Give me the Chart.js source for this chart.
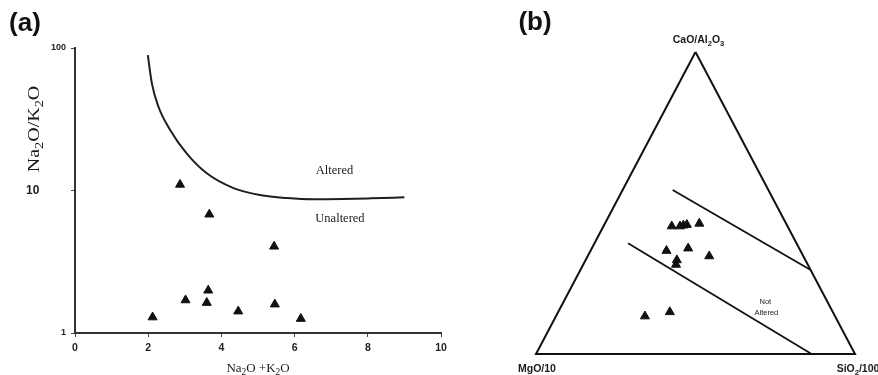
<!DOCTYPE html>
<html><head><meta charset="utf-8">
<script src="https://cdn.jsdelivr.net/npm/chart.js@4/dist/chart.umd.min.js"></script>
<style>
html,body{margin:0;padding:0;background:#fff;width:878px;height:375px;overflow:hidden}
#ca{position:absolute;left:0;top:0}
#cb{position:absolute;left:480px;top:0}
</style></head><body>
<canvas id="ca" width="470" height="375"></canvas>
<canvas id="cb" width="398" height="375"></canvas>
<script>
// ---------- Panel (a) data ----------
const alkaliSum   = [2.87, 3.67, 5.44, 3.64, 3.02, 3.60, 5.46, 4.46, 2.12, 6.17];
const alkaliRatio = [11.0, 6.8, 4.05, 1.99, 1.70, 1.63, 1.59, 1.42, 1.29, 1.26];
const curveSum    = [1.99, 2.10, 2.28, 2.60, 3.05, 3.60, 4.33, 5.05, 5.80, 6.50, 7.30, 8.10, 9.00];
const curveRatio  = [89, 56.5, 38.7, 26.6, 18.2, 13.2, 10.4, 9.3, 8.85, 8.68, 8.72, 8.82, 8.96];
const xTicksA = [0, 2, 4, 6, 8, 10];
const yTicksA = [1, 10, 100];
const zoneLabelsA = ['Altered', 'Unaltered'];
const zoneSumA    = [7.09, 7.24];
const zoneRatioA  = [13.9, 6.4];

// ---------- Panel (b) data (ternary, %) ----------
const sampleCaO  = [42.3, 42.3, 42.6, 42.8, 43.2, 34.2, 35.0, 32.4, 31.1, 29.6, 12.5, 13.9];
const sampleMgO  = [36.3, 33.7, 32.5, 31.3, 27.2, 42.0, 34.8, 29.5, 40.3, 41.3, 59.6, 51.1];
const sampleSiO2 = [21.4, 24.0, 24.9, 25.9, 29.6, 23.8, 30.2, 38.1, 28.6, 29.1, 27.9, 35.0];
const upperLineCaO = [54.3, 27.8], upperLineMgO = [30.0, 0], upperLineSiO2 = [15.7, 72.2];
const lowerLineCaO = [36.7, 0],   lowerLineMgO = [52.8, 13.6], lowerLineSiO2 = [10.5, 86.4];
const endCaO = [100, 0, 0, 100], endMgO = [0, 100, 0, 0], endSiO2 = [0, 0, 100, 0];
const zoneTextB = ['Not', 'Altered'];
const zonePosB = [15.6, 20.3, 64.1];

const SERIF = '"Liberation Serif","Times New Roman",serif';
const SANS = '"Liberation Sans",Arial,sans-serif';
Chart.defaults.font.family = SANS;

function tern(c, m, s) { const t = c + m + s; return { x: (s + c / 2) / t, y: c / t }; }
function ternSeries(C, M, S) { return C.map((c, i) => tern(c, M[i], S[i])); }

function drawRich(ctx, segs, x, y, size, family, weight, align, rot, stretch) {
  ctx.save();
  ctx.translate(x, y);
  if (rot) ctx.rotate(rot);
  if (stretch) ctx.scale(stretch, 1);
  const font = sub => `${weight} ${sub ? size * 0.72 : size}px ${family}`;
  let w = 0;
  segs.forEach(([t, sub]) => { ctx.font = font(sub); w += ctx.measureText(t).width; });
  let cx = align === 'center' ? -w / 2 : align === 'right' ? -w : 0;
  ctx.textAlign = 'left'; ctx.textBaseline = 'alphabetic';
  ctx.fillStyle = '#1a1a1a';
  const base = size * 0.35;
  segs.forEach(([t, sub]) => {
    ctx.font = font(sub);
    ctx.fillText(t, cx, base + (sub ? size * 0.28 : 0));
    cx += ctx.measureText(t).width;
  });
  ctx.restore();
}

// ---------- Panel (a) ----------
const textA = {
  id: 'textA',
  afterDraw(chart) {
    const ctx = chart.ctx, xs = chart.scales.x, ys = chart.scales.y;
    drawRich(ctx, [['Na', 0], ['2', 1], ['O +K', 0], ['2', 1], ['O', 0]],
      (chart.chartArea.left + chart.chartArea.right) / 2, 367, 13, SERIF, 'normal', 'center');
    drawRich(ctx, [['Na', 0], ['2', 1], ['O/K', 0], ['2', 1], ['O', 0]],
      33, 129, 16, SERIF, 'normal', 'center', -Math.PI / 2, 1.25);
    zoneLabelsA.forEach((t, i) => {
      drawRich(ctx, [[t, 0]], xs.getPixelForValue(zoneSumA[i]), ys.getPixelForValue(zoneRatioA[i]),
        12.5, SERIF, 'normal', 'center');
    });
  }
};

new Chart(document.getElementById('ca'), {
  type: 'scatter',
  data: {
    datasets: [
      {
        data: curveSum.map((x, i) => ({ x, y: curveRatio[i] })),
        showLine: true, borderColor: '#1f1f1f', borderWidth: 2, pointRadius: 0,
        cubicInterpolationMode: 'monotone', fill: false
      },
      {
        data: alkaliSum.map((x, i) => ({ x, y: alkaliRatio[i] })),
        pointStyle: 'triangle', pointRadius: 5.2, backgroundColor: '#111', borderColor: '#111', borderWidth: 1
      }
    ]
  },
  options: {
    responsive: false, animation: false, devicePixelRatio: 1,
    layout: { padding: { left: 0, top: 48, right: 29, bottom: 0 } },
    plugins: { legend: { display: false }, tooltip: { enabled: false } },
    scales: {
      x: {
        type: 'linear', min: 0, max: 10,
        afterBuildTicks: s => { s.ticks = xTicksA.map(v => ({ value: v })); },
        afterFit: s => { s.height = 42; },
        ticks: { font: { family: SANS, weight: 'bold', size: 10.5 }, color: '#222', padding: 5, maxRotation: 0 },
        grid: { drawOnChartArea: false, drawTicks: true, tickLength: 4, tickColor: '#444', tickWidth: 1 },
        border: { display: true, color: '#333', width: 2 }
      },
      y: {
        type: 'logarithmic', min: 1, max: 100,
        afterBuildTicks: s => { s.ticks = yTicksA.map(v => ({ value: v })); },
        afterFit: s => { s.width = 75; },
        ticks: {
          callback: v => (v === 10 ? '10        ' : String(v)),
          font: c => ({ family: SANS, weight: 'bold', size: (c.tick && c.tick.value === 10) ? 12 : 9 }),
          color: '#222', padding: 5
        },
        grid: { drawOnChartArea: false, drawTicks: true, tickLength: 4, tickColor: '#444', tickWidth: 1 },
        border: { display: true, color: '#333', width: 2 }
      }
    }
  },
  plugins: [textA, {
    id: 'panelLabelA',
    afterDraw(chart) {
      const ctx = chart.ctx; ctx.save();
      ctx.font = `bold 26px ${SANS}`; ctx.fillStyle = '#111'; ctx.textAlign = 'center'; ctx.textBaseline = 'middle';
      ctx.fillText('(a)', 25, 24); ctx.restore();
    }
  }]
});

// ---------- Panel (b) ----------
const textB = {
  id: 'textB',
  afterDraw(chart) {
    const ctx = chart.ctx, xs = chart.scales.x, ys = chart.scales.y;
    const px = p => ({ x: xs.getPixelForValue(p.x), y: ys.getPixelForValue(p.y) });
    const top = px(tern(100, 0, 0)), left = px(tern(0, 100, 0)), right = px(tern(0, 0, 100));
    drawRich(ctx, [['CaO/Al', 0], ['2', 1], ['O', 0], ['3', 1]], top.x + 3, top.y - 13, 10.5, SANS, 'bold', 'center');
    drawRich(ctx, [['MgO/10', 0]], left.x + 1, left.y + 14, 10.5, SANS, 'bold', 'center');
    drawRich(ctx, [['SiO', 0], ['2', 1], ['/100', 0]], right.x + 3, right.y + 14, 10.5, SANS, 'bold', 'center');
    const z = px(tern(zonePosB[0], zonePosB[1], zonePosB[2]));
    drawRich(ctx, [[zoneTextB[0], 0]], z.x, z.y - 5.5, 7.5, SANS, 'normal', 'center');
    drawRich(ctx, [[zoneTextB[1], 0]], z.x + 1, z.y + 5.5, 7.5, SANS, 'normal', 'center');
    ctx.save();
    ctx.font = `bold 26px ${SANS}`; ctx.fillStyle = '#111'; ctx.textAlign = 'center'; ctx.textBaseline = 'middle';
    ctx.fillText('(b)', 55, 23); ctx.restore();
  }
};

const lineDs = (data, w) => ({
  data, showLine: true, borderColor: '#111', borderWidth: w, pointRadius: 0, tension: 0,
  fill: false, clip: false, borderJoinStyle: 'miter'
});

new Chart(document.getElementById('cb'), {
  type: 'scatter',
  data: {
    datasets: [
      lineDs(ternSeries(endCaO, endMgO, endSiO2), 2),
      lineDs(ternSeries(upperLineCaO, upperLineMgO, upperLineSiO2), 1.8),
      lineDs(ternSeries(lowerLineCaO, lowerLineMgO, lowerLineSiO2), 1.8),
      {
        data: ternSeries(sampleCaO, sampleMgO, sampleSiO2), clip: false,
        pointStyle: 'triangle', pointRadius: 5.2, backgroundColor: '#111', borderColor: '#111', borderWidth: 1
      }
    ]
  },
  options: {
    responsive: false, animation: false, devicePixelRatio: 1,
    layout: { padding: { left: 56, top: 52, right: 23, bottom: 21 } },
    plugins: { legend: { display: false }, tooltip: { enabled: false } },
    scales: {
      x: { type: 'linear', min: 0, max: 1, display: false },
      y: { type: 'linear', min: 0, max: 1, display: false }
    }
  },
  plugins: [textB]
});
</script>
</body></html>
